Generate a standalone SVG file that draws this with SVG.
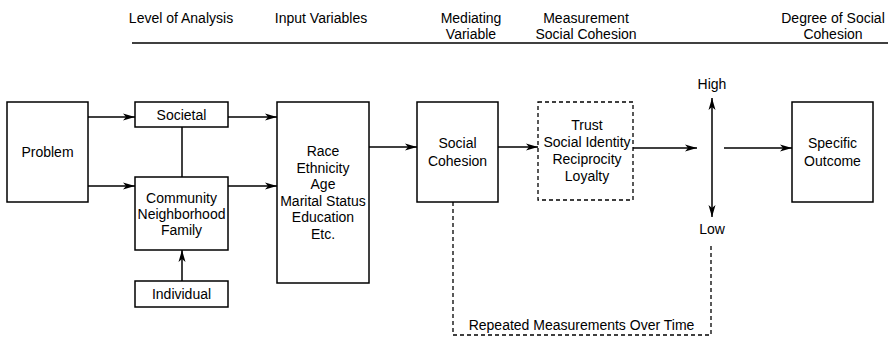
<svg xmlns="http://www.w3.org/2000/svg" width="892" height="339" viewBox="0 0 892 339">
<defs>
<style>
text{font-family:"Liberation Sans",Arial,sans-serif;font-size:14px;fill:#000;text-anchor:middle}
.box{fill:#fff;stroke:#000;stroke-width:1.5}
.dbox{fill:#fff;stroke:#000;stroke-width:1.3;stroke-dasharray:4 3}
.ln{fill:none;stroke:#000;stroke-width:1.5}
.dln{fill:none;stroke:#000;stroke-width:1.3;stroke-dasharray:4 3}
</style>
<marker id="ah" viewBox="0 0 12 8" refX="12" refY="4" markerWidth="12" markerHeight="8" markerUnits="userSpaceOnUse" orient="auto-start-reverse">
<path d="M0,0.5 L12,4 L0,7.5 L3,4 Z" fill="#000"/>
</marker>
</defs>
<rect width="892" height="339" fill="#fff"/>
<g id="header">
<text x="181" y="23">Level of Analysis</text>
<text x="321" y="23">Input Variables</text>
<text x="471" y="23">Mediating</text>
<text x="471" y="39">Variable</text>
<text x="586" y="23">Measurement</text>
<text x="586" y="39">Social Cohesion</text>
<text x="833" y="23">Degree of Social</text>
<text x="833" y="39">Cohesion</text>
<line class="ln" x1="132" y1="43" x2="888" y2="43"/>
</g>
<g id="connectors">
<line class="ln" x1="88" y1="117" x2="135" y2="117" marker-end="url(#ah)"/>
<line class="ln" x1="88" y1="186" x2="135" y2="186" marker-end="url(#ah)"/>
<line class="ln" x1="228" y1="117" x2="277" y2="117" marker-end="url(#ah)"/>
<line class="ln" x1="228" y1="186" x2="277" y2="186" marker-end="url(#ah)"/>
<line class="ln" x1="182" y1="127" x2="182" y2="177"/>
<line class="ln" x1="182" y1="281" x2="182" y2="250" marker-end="url(#ah)"/>
<line class="ln" x1="369" y1="147" x2="417" y2="147" marker-end="url(#ah)"/>
<line class="ln" x1="498" y1="147" x2="538" y2="147" marker-end="url(#ah)"/>
<line class="ln" x1="633" y1="148" x2="697" y2="148" marker-end="url(#ah)"/>
<line class="ln" x1="712" y1="98" x2="712" y2="217" marker-start="url(#ah)" marker-end="url(#ah)"/>
<line class="ln" x1="724" y1="148" x2="792" y2="148" marker-end="url(#ah)"/>
<polyline class="dln" points="453,202 453,335 711,335 711,243"/>
</g>
<g id="problem"><rect class="box" x="7" y="102" width="81" height="100"/><text x="47.5" y="157">Problem</text></g>
<g id="societal"><rect class="box" x="135" y="102" width="93" height="25"/><text x="181.5" y="120">Societal</text></g>
<g id="community"><rect class="box" x="135" y="177" width="93" height="73"/><text x="181.5" y="203">Community</text><text x="181.5" y="219">Neighborhood</text><text x="181.5" y="235">Family</text></g>
<g id="individual"><rect class="box" x="135" y="281" width="93" height="26"/><text x="181.5" y="299">Individual</text></g>
<g id="input"><rect class="box" x="277" y="102" width="92" height="181"/><text x="323" y="156">Race</text><text x="323" y="172.6">Ethnicity</text><text x="323" y="189.2">Age</text><text x="323" y="205.8">Marital Status</text><text x="323" y="222.4">Education</text><text x="323" y="239">Etc.</text></g>
<g id="socialcohesion"><rect class="box" x="417" y="102" width="81" height="100"/><text x="457.5" y="148">Social</text><text x="457.5" y="166">Cohesion</text></g>
<g id="measurement"><rect class="dbox" x="538" y="102" width="95" height="98"/><text x="587" y="130">Trust</text><text x="587" y="147">Social Identity</text><text x="587" y="164">Reciprocity</text><text x="587" y="181">Loyalty</text></g>
<g id="degree"><text x="712" y="89">High</text><text x="712" y="234">Low</text></g>
<g id="outcome"><rect class="box" x="792" y="102" width="81" height="100"/><text x="832.5" y="148">Specific</text><text x="832.5" y="166">Outcome</text></g>
<g id="repeated"><text x="581.5" y="330">Repeated Measurements Over Time</text></g>
</svg>
